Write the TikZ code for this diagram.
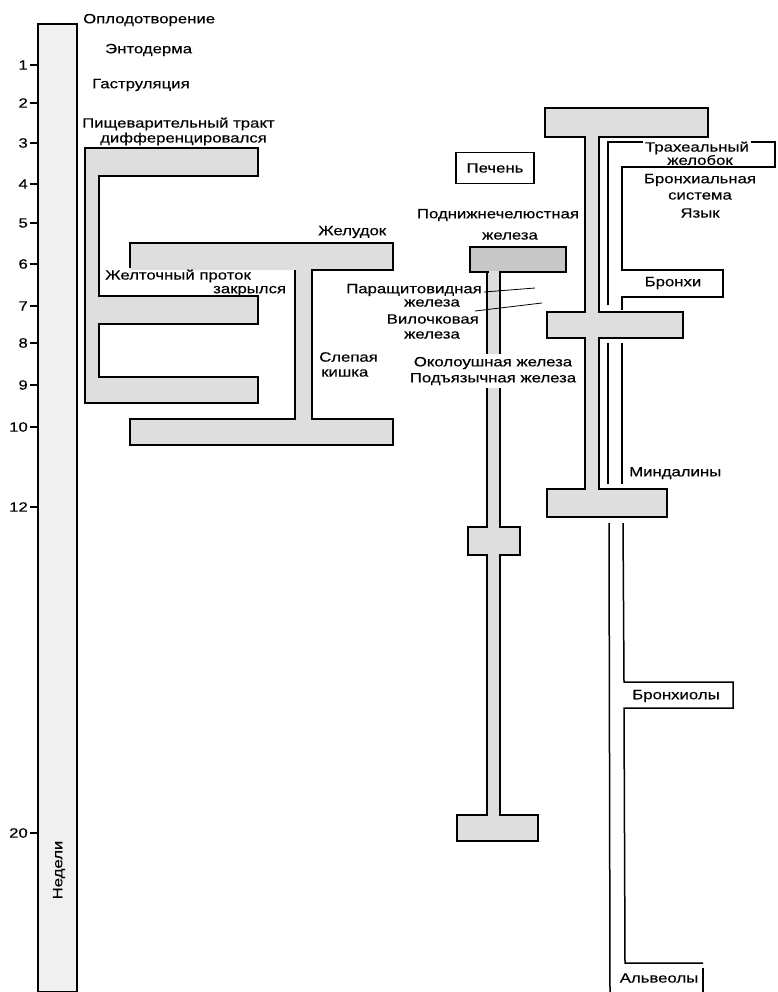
\documentclass[tikz,border=0pt]{standalone}
\usepackage{fontspec}
\newfontfamily\labfont{Liberation Sans}[FakeStretch=1.24, FakeBold=0.3]
\begin{document}
\begin{tikzpicture}[x=1pt,y=-1pt,
  outl/.style={draw=black, line width=1.5pt, line join=miter},
  shaded/.style={outl, fill=black!13},
  darkshaded/.style={outl, fill=black!22},
  wire/.style={draw=black, line width=1.5pt},
  thinline/.style={draw=black, line width=0.8pt},
  lbl/.style={font=\labfont\fontsize{13.5}{16}\selectfont, inner sep=0pt, text=black},
  box/.style={draw=black, line width=1.5pt, fill=white, minimum width=78pt, minimum height=31pt, inner sep=0pt, font=\labfont\fontsize{13.5}{16}\selectfont}
]
\useasboundingbox (0,0) rectangle (778,992);

% ---- weeks bar ----
\filldraw[outl, fill=black!6] (38,24) rectangle (77,992);
\node[lbl, rotate=90] (weeks) at (59,870) {Недели};
\foreach \w/\yy in {1/65,2/103,3/143,4/184,5/223,6/264,7/306,8/343,9/385,10/427,12/507,20/833}{
  \coordinate (tk\w) at (38,\yy);
  \node[lbl, anchor=east] (tn\w) at (28,\yy) {\w};
  \draw[line width=1.2pt] (tn\w.east) ++(1.5,0) -- (tk\w);
}

% ---- top labels ----
\node[lbl, anchor=west] (fert) at (83,20) {Оплодотворение};
\node[lbl, anchor=west] (endo) at (105,50) {Энтодерма};
\node[lbl, anchor=west] (gast) at (92,85) {Гаструляция};
\node[lbl, anchor=west] (dig1) at (82,124) {Пищеварительный тракт};
\node[lbl, anchor=west] (dig2) at (100,139) {дифференцировался};

% ---- E-shaped digestive structure ----
\filldraw[shaded] (85,148) -- (258,148) -- (258,176) -- (99,176) -- (99,296)
  -- (258,296) -- (258,324) -- (99,324) -- (99,377) -- (258,377) -- (258,403)
  -- (85,403) -- cycle;

% ---- stomach / caecum I-beam ----
\fill[black!13] (130,243) -- (393,243) -- (393,270) -- (312,270) -- (312,419)
  -- (393,419) -- (393,445) -- (130,445) -- (130,419) -- (295,419) -- (295,270)
  -- (130,270) -- cycle;
\draw[outl] (130,268) -- (130,243) -- (393,243) -- (393,270) -- (312,270) -- (312,419)
  -- (393,419) -- (393,445) -- (130,445) -- (130,419) -- (295,419) -- (295,270);
\node[lbl, anchor=west] (stom) at (318,232) {Желудок};
\node[lbl, anchor=west] (yolk1) at (105,276) {Желточный проток};
\node[lbl, anchor=west] (yolk2) at (213,291) {закрылся};
\node[lbl, anchor=west] (caec1) at (319,357) {Слепая};
\node[lbl, anchor=west] (caec2) at (321,373) {кишка};

% ---- salivary / glands structure ----
\filldraw[shaded] (500,272) -- (500,527) -- (520,527) -- (520,555) -- (500,555)
  -- (500,815) -- (538,815) -- (538,841) -- (457,841) -- (457,815) -- (487,815)
  -- (487,555) -- (468,555) -- (468,527) -- (487,527) -- (487,272) -- cycle;
\filldraw[darkshaded] (470,247) rectangle (566,272);
\fill[black!13] (488.5,271) rectangle (498.5,274);
\node[box] (liver) at (495,168) {Печень};
\node[lbl] (subm1) at (498,215) {Поднижнечелюстная};
\node[lbl] (subm2) at (510,236) {железа};
\node[lbl, anchor=east] (para1) at (482,290) {Паращитовидная};
\node[lbl] (para2) at (432,303) {железа};
\node[lbl, anchor=east] (thym1) at (479,319) {Вилочковая};
\node[lbl] (thym2) at (432,335) {железа};
\coordinate (pl1a) at (484,292);
\coordinate (pl1b) at (535,288);
\coordinate (pl2a) at (475,311);
\coordinate (pl2b) at (542,303);
\draw[thinline] (pl1a) -- (pl1b);
\draw[thinline] (pl2a) -- (pl2b);
\node[lbl, fill=white, inner sep=3pt, align=center] (paro) at (493,371)
  {Околоушная железа\\Подъязычная железа};

% ---- respiratory structure ----
\filldraw[shaded] (545,108) -- (708,108) -- (708,137) -- (599,137) -- (599,312)
  -- (683,312) -- (683,338) -- (599,338) -- (599,489) -- (667,489) -- (667,517)
  -- (547,517) -- (547,489) -- (585,489) -- (585,338) -- (547,338) -- (547,312)
  -- (585,312) -- (585,137) -- (545,137) -- cycle;

\draw[wire] (608,305) -- (608,142) -- (775,142) -- (775,167) -- (622,167) -- (622,270)
  -- (723,270) -- (723,297) -- (622,297) -- (622,310);
\node[lbl, fill=white, inner sep=2pt] (trach1) at (697,148) {Трахеальный};
\node[lbl] (trach2) at (700,160) {желобок};
\node[lbl] (bron1) at (700,180) {Бронхиальная};
\node[lbl] (bron2) at (700,196) {система};
\node[lbl] (tong) at (700,213) {Язык};
\node[lbl] (bronchi) at (673,283) {Бронхи};

\draw[wire] (608,343) -- (608,484);
\draw[wire] (622,343) -- (622,484);
\node[lbl, anchor=west] (tons) at (629,473) {Миндалины};

\draw[wire] (609,523) -- (610,992);
\draw[wire] (623,523) -- (624,682) -- (733,682) -- (733,708) -- (624,708) -- (625,963) -- (703,963);
\coordinate (alvtop) at (703,968);
\coordinate (alvbot) at (703,992);
\draw[line width=2pt] (alvtop) -- (alvbot);
\node[lbl] (bronchio) at (676,696) {Бронхиолы};
\node[lbl] (alv) at (659,978) {Альвеолы};
\end{tikzpicture}
\end{document}
